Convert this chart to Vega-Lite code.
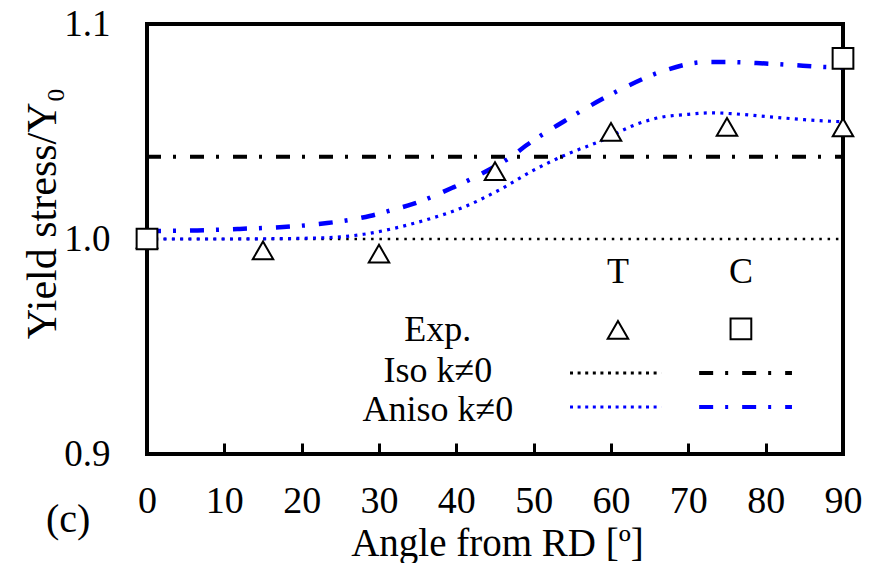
{
  "$schema": "https://vega.github.io/schema/vega-lite/v6.json",
  "width": 696,
  "height": 430,
  "autosize": "none",
  "padding": {"left": 147, "top": 24, "right": 34, "bottom": 109},
  "background": "white",
  "config": {
    "font": "Liberation Serif",
    "view": {"stroke": "black", "strokeWidth": 4},
    "text": {"font": "Liberation Serif"},
    "axis": {"grid": false, "domain": false, "labelFont": "Liberation Serif", "titleFont": "Liberation Serif", "labelColor": "black", "titleColor": "black", "titleFontWeight": "normal"},
    "axisX": {"ticks": true, "tickSize": 11, "tickWidth": 3, "tickColor": "black"}
  },
  "datasets": {
    "curves": [
      {"series": "Iso T", "angle": 0, "value": 1.0},
      {"series": "Iso T", "angle": 90, "value": 1.0},
      {"series": "Iso C", "angle": 0, "value": 1.0383},
      {"series": "Iso C", "angle": 90, "value": 1.0383},
      {"series": "Aniso T", "angle": 0, "value": 1.0},
      {"series": "Aniso T", "angle": 5, "value": 1.0},
      {"series": "Aniso T", "angle": 10, "value": 1.0},
      {"series": "Aniso T", "angle": 15, "value": 1.0001},
      {"series": "Aniso T", "angle": 20, "value": 1.0003},
      {"series": "Aniso T", "angle": 25, "value": 1.001},
      {"series": "Aniso T", "angle": 28, "value": 1.0022},
      {"series": "Aniso T", "angle": 32, "value": 1.005},
      {"series": "Aniso T", "angle": 36, "value": 1.0088},
      {"series": "Aniso T", "angle": 41, "value": 1.0149},
      {"series": "Aniso T", "angle": 46, "value": 1.0237},
      {"series": "Aniso T", "angle": 50, "value": 1.032},
      {"series": "Aniso T", "angle": 54.7, "value": 1.04},
      {"series": "Aniso T", "angle": 58.6, "value": 1.0455},
      {"series": "Aniso T", "angle": 63.4, "value": 1.0535},
      {"series": "Aniso T", "angle": 66.3, "value": 1.0565},
      {"series": "Aniso T", "angle": 70, "value": 1.058},
      {"series": "Aniso T", "angle": 73, "value": 1.0587},
      {"series": "Aniso T", "angle": 76, "value": 1.0582},
      {"series": "Aniso T", "angle": 80, "value": 1.057},
      {"series": "Aniso T", "angle": 85, "value": 1.0555},
      {"series": "Aniso T", "angle": 90, "value": 1.0545},
      {"series": "Aniso C", "angle": 0, "value": 1.0037},
      {"series": "Aniso C", "angle": 6.5, "value": 1.004},
      {"series": "Aniso C", "angle": 12, "value": 1.0047},
      {"series": "Aniso C", "angle": 17.6, "value": 1.0056},
      {"series": "Aniso C", "angle": 23.3, "value": 1.0074},
      {"series": "Aniso C", "angle": 28.8, "value": 1.0107},
      {"series": "Aniso C", "angle": 31.7, "value": 1.0135},
      {"series": "Aniso C", "angle": 34.4, "value": 1.0163},
      {"series": "Aniso C", "angle": 39.6, "value": 1.024},
      {"series": "Aniso C", "angle": 42.2, "value": 1.0284},
      {"series": "Aniso C", "angle": 44.4, "value": 1.0326},
      {"series": "Aniso C", "angle": 47, "value": 1.038},
      {"series": "Aniso C", "angle": 49.1, "value": 1.0437},
      {"series": "Aniso C", "angle": 54, "value": 1.0549},
      {"series": "Aniso C", "angle": 56.6, "value": 1.0605},
      {"series": "Aniso C", "angle": 61.6, "value": 1.0702},
      {"series": "Aniso C", "angle": 66.7, "value": 1.0781},
      {"series": "Aniso C", "angle": 72.4, "value": 1.0823},
      {"series": "Aniso C", "angle": 75.4, "value": 1.0823},
      {"series": "Aniso C", "angle": 80, "value": 1.0816},
      {"series": "Aniso C", "angle": 83.5, "value": 1.0809},
      {"series": "Aniso C", "angle": 87, "value": 1.0801},
      {"series": "Aniso C", "angle": 90, "value": 1.0798}
    ],
    "exp": [
      {"type": "T", "angle": 0, "value": 1.0},
      {"type": "T", "angle": 15, "value": 0.9947},
      {"type": "T", "angle": 30, "value": 0.9932},
      {"type": "T", "angle": 45, "value": 1.0316},
      {"type": "T", "angle": 60, "value": 1.0498},
      {"type": "T", "angle": 75, "value": 1.0521},
      {"type": "T", "angle": 90, "value": 1.0519},
      {"type": "C", "angle": 0, "value": 1.0},
      {"type": "C", "angle": 90, "value": 1.084}
    ],
    "one": [{"k": 1}]
  },
  "resolve": {"scale": {"x": "shared", "y": "shared"}},
  "layer": [
    {"data": {"name": "curves"}, "transform": [{"filter": "datum.series === 'Iso T'"}],
      "mark": {"type": "line", "color": "black", "strokeWidth": 2.5, "strokeDash": [2.5, 5.8]},
      "encoding": {
        "x": {"field": "angle", "type": "quantitative",
          "scale": {"domain": [0, 90], "nice": false, "zero": false},
          "axis": {"values": [0, 10, 20, 30, 40, 50, 60, 70, 80, 90], "title": "Angle from RD [º]",
            "offset": -11, "labelFontSize": 38, "labelFlush": false, "labelOverlap": false, "labelPadding": 28,
            "titleFontSize": 39, "titleX": 350, "titleY": 100, "titleBaseline": "middle", "titleAlign": "center"}},
        "y": {"field": "value", "type": "quantitative",
          "scale": {"domain": [0.9, 1.1], "nice": false, "zero": false},
          "axis": {"values": [0.9, 1.0, 1.1], "format": ".1f", "title": "Yield stress/Y₀",
            "labelFontSize": 37, "labelFlush": false, "ticks": false, "labelPadding": 37,
            "titleFontSize": 42, "titleAngle": -90, "titleX": -105, "titleY": 189, "titleBaseline": "middle", "titleAlign": "center"}}
      }},
    {"data": {"name": "curves"}, "transform": [{"filter": "datum.series === 'Iso C'"}],
      "mark": {"type": "line", "color": "black", "strokeWidth": 4, "strokeDash": [14, 12, 3, 14]},
      "encoding": {"x": {"field": "angle", "type": "quantitative"}, "y": {"field": "value", "type": "quantitative"}}},
    {"data": {"name": "curves"}, "transform": [{"filter": "datum.series === 'Aniso T'"}],
      "mark": {"type": "line", "color": "#0000ff", "strokeWidth": 3.2, "strokeDash": [3, 5.3], "interpolate": "monotone"},
      "encoding": {"x": {"field": "angle", "type": "quantitative"}, "y": {"field": "value", "type": "quantitative"}}},
    {"data": {"name": "curves"}, "transform": [{"filter": "datum.series === 'Aniso C'"}],
      "mark": {"type": "line", "color": "#0000ff", "strokeWidth": 4.5, "strokeDash": [14, 12, 3, 14], "interpolate": "monotone"},
      "encoding": {"x": {"field": "angle", "type": "quantitative"}, "y": {"field": "value", "type": "quantitative"}}},
    {"data": {"name": "exp"}, "transform": [{"filter": "datum.type === 'T'"}],
      "mark": {"type": "point", "shape": "triangle-up", "size": 420, "filled": true, "fill": "white", "stroke": "black", "strokeWidth": 2, "opacity": 1},
      "encoding": {"x": {"field": "angle", "type": "quantitative"}, "y": {"field": "value", "type": "quantitative"}}},
    {"data": {"name": "exp"}, "transform": [{"filter": "datum.type === 'C'"}],
      "mark": {"type": "point", "shape": "square", "size": 430, "filled": true, "fill": "white", "stroke": "black", "strokeWidth": 2, "opacity": 1},
      "encoding": {"x": {"field": "angle", "type": "quantitative"}, "y": {"field": "value", "type": "quantitative"}}},
    {"data": {"name": "one"},
      "mark": {"type": "text", "fontSize": 36, "align": "center", "baseline": "middle", "color": "black", "text": "T"},
      "encoding": {"x": {"datum": 60.9, "type": "quantitative"}, "y": {"datum": 0.9847, "type": "quantitative"}}},
    {"data": {"name": "one"},
      "mark": {"type": "text", "fontSize": 36, "align": "center", "baseline": "middle", "color": "black", "text": "C"},
      "encoding": {"x": {"datum": 76.8, "type": "quantitative"}, "y": {"datum": 0.9847, "type": "quantitative"}}},
    {"data": {"name": "one"},
      "mark": {"type": "text", "fontSize": 36, "align": "center", "baseline": "middle", "color": "black", "text": "Exp."},
      "encoding": {"x": {"datum": 37.6, "type": "quantitative"}, "y": {"datum": 0.9577, "type": "quantitative"}}},
    {"data": {"name": "one"},
      "mark": {"type": "text", "fontSize": 36, "align": "center", "baseline": "middle", "color": "black", "text": "Iso k≠0"},
      "encoding": {"x": {"datum": 37.6, "type": "quantitative"}, "y": {"datum": 0.9386, "type": "quantitative"}}},
    {"data": {"name": "one"},
      "mark": {"type": "text", "fontSize": 36, "align": "center", "baseline": "middle", "color": "black", "text": "Aniso k≠0"},
      "encoding": {"x": {"datum": 37.6, "type": "quantitative"}, "y": {"datum": 0.9205, "type": "quantitative"}}},
    {"data": {"name": "one"},
      "mark": {"type": "point", "shape": "triangle-up", "size": 420, "filled": true, "fill": "white", "stroke": "black", "strokeWidth": 2, "opacity": 1},
      "encoding": {"x": {"datum": 60.9, "type": "quantitative"}, "y": {"datum": 0.9577, "type": "quantitative"}}},
    {"data": {"name": "one"},
      "mark": {"type": "point", "shape": "square", "size": 430, "filled": true, "fill": "white", "stroke": "black", "strokeWidth": 2, "opacity": 1},
      "encoding": {"x": {"datum": 76.8, "type": "quantitative"}, "y": {"datum": 0.9582, "type": "quantitative"}}},
    {"data": {"name": "one"},
      "mark": {"type": "rule", "color": "black", "strokeWidth": 3, "strokeDash": [3, 4.6]},
      "encoding": {"x": {"datum": 54.7, "type": "quantitative"}, "x2": {"datum": 66.5}, "y": {"datum": 0.9377, "type": "quantitative"}}},
    {"data": {"name": "one"},
      "mark": {"type": "rule", "color": "black", "strokeWidth": 4, "strokeDash": [14, 12, 3, 14]},
      "encoding": {"x": {"datum": 71.4, "type": "quantitative"}, "x2": {"datum": 83.4}, "y": {"datum": 0.9377, "type": "quantitative"}}},
    {"data": {"name": "one"},
      "mark": {"type": "rule", "color": "#0000ff", "strokeWidth": 3, "strokeDash": [3, 4.6]},
      "encoding": {"x": {"datum": 54.7, "type": "quantitative"}, "x2": {"datum": 66.5}, "y": {"datum": 0.9219, "type": "quantitative"}}},
    {"data": {"name": "one"},
      "mark": {"type": "rule", "color": "#0000ff", "strokeWidth": 4, "strokeDash": [14, 12, 3, 14]},
      "encoding": {"x": {"datum": 71.4, "type": "quantitative"}, "x2": {"datum": 83.4}, "y": {"datum": 0.9219, "type": "quantitative"}}},
    {"data": {"name": "one"},
      "mark": {"type": "text", "fontSize": 40, "align": "center", "baseline": "middle", "color": "black", "text": "(c)"},
      "encoding": {"x": {"datum": -10.2, "type": "quantitative"}, "y": {"datum": 0.8693, "type": "quantitative"}}}
  ]
}
